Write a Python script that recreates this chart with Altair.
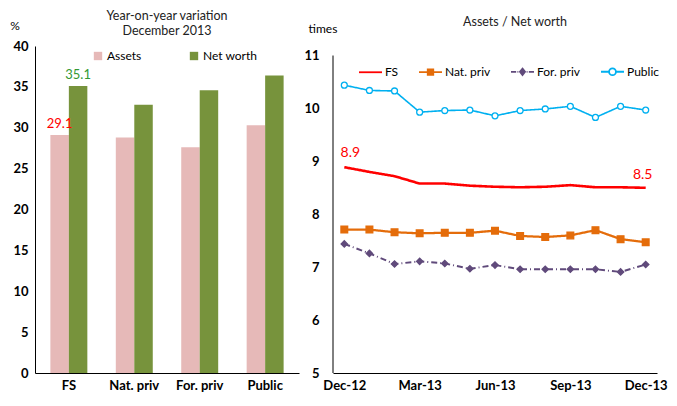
import altair as alt
import pandas as pd

FONT = "Lato"

# ---------------- Left panel data ----------------
categories = ["FS", "Nat. priv", "For. priv", "Public"]
assets = [29.1, 28.8, 27.6, 30.3]
net_worth = [35.1, 32.8, 34.6, 36.4]

# ---------------- Right panel data ----------------
months = ["Dec-12", "Jan-13", "Feb-13", "Mar-13", "Apr-13", "May-13", "Jun-13",
          "Jul-13", "Aug-13", "Sep-13", "Oct-13", "Nov-13", "Dec-13"]
fs = [8.89, 8.80, 8.72, 8.58, 8.58, 8.54, 8.52, 8.51, 8.52, 8.55, 8.51, 8.51, 8.50]
nat_priv = [7.71, 7.71, 7.66, 7.64, 7.65, 7.65, 7.69, 7.59, 7.57, 7.60, 7.70, 7.53, 7.47]
for_priv = [7.44, 7.26, 7.06, 7.11, 7.07, 6.97, 7.04, 6.96, 6.96, 6.96, 6.96, 6.91, 7.05]
public = [10.44, 10.34, 10.33, 9.93, 9.96, 9.97, 9.86, 9.96, 9.99, 10.04, 9.83, 10.04, 9.97]
month_ticks = ["Dec-12", "Mar-13", "Jun-13", "Sep-13", "Dec-13"]

left_title_1 = "Year-on-year variation"
left_title_2 = "December 2013"
right_title = "Assets / Net worth"
left_unit = "%"
right_unit = "times"

bar_series = ["Assets", "Net worth"]
bar_colors = ["#E6B9B8", "#77933C"]
line_series = ["FS", "Nat. priv", "For. priv", "Public"]
line_colors = ["#FF0000", "#E46C0A", "#604A7B", "#00B0F0"]
marker_fills = ["#FF0000", "#E46C0A", "#604A7B", "#FFFFFF"]

# legend glyphs: line segment with the series marker in the middle
legend_glyphs = [
    "M-1,0L1,0",
    "M-1,0L1,0M-0.24,-0.24L0.24,-0.24L0.24,0.24L-0.24,0.24Z",
    "M-1,0L-0.55,0M-0.44,0L-0.36,0M0.36,0L0.44,0M0.55,0L1,0"
    "M0,-0.28L0.22,0L0,0.28L-0.22,0Z",
    "M-1,0L-0.3,0M0.3,0L1,0M0.3,0A0.3,0.3,0,1,1,-0.3,0A0.3,0.3,0,1,1,0.3,0Z",
]

bar_df = pd.DataFrame(
    [{"category": c, "series": "Assets", "value": v} for c, v in zip(categories, assets)]
    + [{"category": c, "series": "Net worth", "value": v} for c, v in zip(categories, net_worth)]
)
bar_df["label"] = bar_df["value"].map(lambda v: f"{v:.1f}")

series_values = {"FS": fs, "Nat. priv": nat_priv, "For. priv": for_priv, "Public": public}
line_df = pd.DataFrame(
    [{"month": m, "series": s, "value": v}
     for s in line_series for m, v in zip(months, series_values[s])]
)
line_df["label"] = line_df["value"].map(lambda v: f"{v:.1f}")

LW, LH = 264, 327
RW, RH = 324, 327


def static_text(text, x, y, size=12.5, color="#222222", align="center"):
    return alt.Chart(pd.DataFrame({"t": [text]})).mark_text(
        font=FONT, fontSize=size, color=color, align=align, baseline="middle",
    ).encode(x=alt.value(x), y=alt.value(y), text="t:N")


# ---------------- Left chart ----------------
x_bar = alt.X("category:N", sort=categories,
              scale=alt.Scale(paddingInner=0.435, paddingOuter=0.235),
              axis=alt.Axis(title=None, labelAngle=0, labelFontWeight="bold",
                            labelFontSize=13, ticks=False, labelPadding=6,
                            domainColor="black", labelColor="black", labelFont=FONT))
xoff = alt.XOffset("series:N", sort=bar_series)
y_bar = alt.Y("value:Q", scale=alt.Scale(domain=[0, 40]),
              axis=alt.Axis(values=list(range(0, 41, 5)), title=None,
                            labelFontWeight="bold", labelFontSize=13, labelFont=FONT,
                            labelColor="black", grid=False, ticks=False, labelPadding=7,
                            domainColor="black"))

bars = alt.Chart(bar_df).mark_bar().encode(
    x=x_bar, xOffset=xoff, y=y_bar,
    color=alt.Color("series:N", sort=bar_series,
                    scale=alt.Scale(domain=bar_series, range=bar_colors),
                    legend=alt.Legend(title=None, orient="none", legendX=57, legendY=4,
                                      direction="horizontal", symbolType="square",
                                      symbolSize=70, labelFontSize=12, labelFont=FONT,
                                      labelColor="black", columnPadding=46,
                                      labelOffset=3, symbolStrokeWidth=0)),
)

bar_labels = alt.Chart(bar_df).transform_filter(
    alt.datum.category == categories[0]
).mark_text(fontSize=13, font=FONT, dy=-11, baseline="middle").encode(
    x=x_bar, xOffset=xoff, y=y_bar, text="label:N",
    color=alt.Color("series:N", scale=alt.Scale(domain=bar_series, range=["#FF0000", "#339933"]),
                    legend=None),
)

left = alt.layer(
    bars, bar_labels,
    static_text(left_title_1, LW / 2, -30),
    static_text(left_title_2, LW / 2, -15),
    static_text(left_unit, -20, -20, size=12, color="black"),
).resolve_scale(color="independent").properties(width=LW, height=LH)

# ---------------- Right chart ----------------
y_scale = alt.Scale(domain=[5, 11.18], nice=False, zero=False)
x_line = alt.X("month:N", sort=months, scale=alt.Scale(type="point", padding=0.45),
               axis=alt.Axis(title=None, values=month_ticks, labelAngle=0,
                             labelFontWeight="bold", labelFontSize=13, labelFont=FONT,
                             labelColor="black", ticks=False, labelPadding=6,
                             domainColor="black"))
y_axis = alt.Axis(values=list(range(5, 12)), format="d", title=None,
                  labelFontWeight="bold", labelFontSize=13, labelFont=FONT,
                  labelColor="black", grid=False, ticks=False, labelPadding=14,
                  domain=False)
y_line = alt.Y("value:Q", scale=y_scale, axis=y_axis)

axis_line = alt.Chart(pd.DataFrame({"a": [5], "b": [11]})).mark_rule(color="black").encode(
    x=alt.value(0), y=alt.Y("a:Q", scale=y_scale, axis=y_axis), y2="b:Q",
)

lines = alt.Chart(line_df).mark_line().encode(
    x=x_line, y=y_line,
    color=alt.Color("series:N", sort=line_series,
                    scale=alt.Scale(domain=line_series, range=line_colors), legend=None),
    strokeDash=alt.StrokeDash("series:N", sort=line_series,
                              scale=alt.Scale(domain=line_series,
                                              range=[[1, 0], [1, 0], [6, 3, 1, 3], [1, 0]]),
                              legend=None),
    strokeWidth=alt.StrokeWidth("series:N", scale=alt.Scale(domain=line_series,
                                                            range=[2.6, 1.6, 1.4, 1.6]),
                                legend=None),
)

point_series = ["Nat. priv", "For. priv", "Public"]
points = alt.Chart(line_df).transform_filter(
    alt.datum.series != "FS"
).mark_point(filled=False, opacity=1, strokeWidth=1.3).encode(
    x=x_line, y=y_line,
    shape=alt.Shape("series:N", scale=alt.Scale(domain=point_series,
                                                range=["square", "diamond", "circle"]),
                    legend=None),
    fill=alt.Fill("series:N", scale=alt.Scale(domain=point_series,
                                              range=["#E46C0A", "#604A7B", "#FFFFFF"]),
                  legend=None),
    stroke=alt.Stroke("series:N", scale=alt.Scale(domain=point_series,
                                                  range=["#E46C0A", "#604A7B", "#00B0F0"]),
                      legend=None),
    size=alt.Size("series:N", scale=alt.Scale(domain=point_series, range=[45, 35, 55]),
                  legend=None),
)

legend_spec = alt.Legend(title=None, orient="none", legendX=25, legendY=13,
                         direction="horizontal", symbolSize=529, symbolStrokeWidth=1.8,
                         labelFontSize=12, labelFont=FONT, labelColor="black",
                         columnPadding=16, labelOffset=2)
legend_layer = alt.Chart(line_df).transform_filter("false").mark_point(
    filled=False, opacity=1
).encode(
    x=x_line, y=y_line,
    stroke=alt.Stroke("series:N", sort=line_series,
                      scale=alt.Scale(domain=line_series, range=line_colors),
                      legend=legend_spec),
    fill=alt.Fill("series:N", sort=line_series,
                  scale=alt.Scale(domain=line_series, range=marker_fills),
                  legend=legend_spec),
    shape=alt.Shape("series:N", sort=line_series,
                    scale=alt.Scale(domain=line_series, range=legend_glyphs),
                    legend=legend_spec),
)

fs_df = line_df[line_df["series"] == "FS"]
fs_first = alt.Chart(fs_df.iloc[[0]]).mark_text(
    color="#FF0000", fontSize=14, font=FONT, dx=6, dy=-14
).encode(x=x_line, y=y_line, text="label:N")
fs_last = alt.Chart(fs_df.iloc[[-1]]).mark_text(
    color="#FF0000", fontSize=14, font=FONT, dx=-3, dy=-13
).encode(x=x_line, y=y_line, text="label:N")

right = alt.layer(
    lines, points, legend_layer, axis_line, fs_first, fs_last,
    static_text(right_title, 182, -24),
    static_text(right_unit, -10, -17, size=12, color="black"),
).resolve_scale(
    fill="independent", stroke="independent", shape="independent", size="independent"
).properties(width=RW, height=RH)

chart = alt.hconcat(left, right, spacing=4).configure(
    font=FONT, view=alt.ViewConfig(stroke=None)
).properties(padding={"left": 2, "top": 2, "right": 0, "bottom": 0})

chart.save("out.html", embed_options={"renderer": "svg", "actions": False})
